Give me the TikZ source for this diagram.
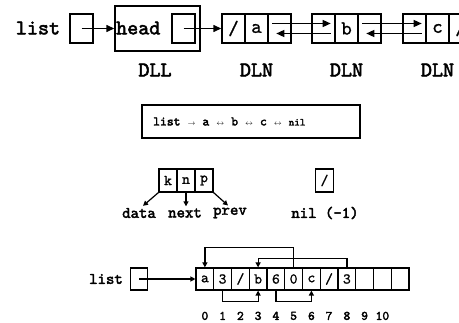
\documentclass[tikz,border=0pt]{standalone}
\usepackage{fontspec}
\setmonofont{lmmono10-regular.otf}[UprightFeatures={FakeBold=1},
    BoldFont=lmmono10-regular.otf,BoldFeatures={FakeBold=2.5}]
\usetikzlibrary{arrows.meta}
\begin{document}
\begin{tikzpicture}
        [x=1pt,y=-1pt,
        word/.style={inner sep=0pt,font=\ttfamily\bfseries\fontsize{21}{21}\selectfont},
        note/.style={inner sep=0pt,font=\ttfamily\bfseries\fontsize{16}{16}\selectfont},
        cell/.style={draw,line width=1.4pt,minimum width=23pt,minimum height=29pt,
            inner sep=0pt,font=\ttfamily\fontsize{20}{20}\selectfont},
        kcell/.style={draw,line width=1.2pt,minimum width=18pt,minimum height=23pt,
            inner sep=0pt,font=\ttfamily\fontsize{15}{15}\selectfont},
        acell/.style={draw,line width=1.2pt,minimum width=17.75pt,minimum height=22pt,
            inner sep=0pt,font=\ttfamily\fontsize{15}{15}\selectfont},
        every label/.style={inner sep=0pt,font=\ttfamily\bfseries\fontsize{13}{13}\selectfont},
        label distance=21pt,
        ptr/.style={line width=1.4pt,-{Triangle[length=8pt,width=7pt]}},
        sptr/.style={line width=1.2pt,-{Triangle[length=5pt,width=5pt]}}]
        \clip (0,0) rectangle (459,323);
        % doubly linked list
        \node[word] (list) at (38,28) {list};
        \node[cell] (lbox) at (81.5,28.5) {};
        \node[draw,line width=1.4pt,minimum width=85pt,minimum height=45pt] (dll) at (157.5,28.5) {};
        \node[word,anchor=west] (head) at (116,28) {head};
        \node[cell] (hbox) at (183.5,28.5) {};
        \node[word] (dlltxt) at (155,70) {DLL};
        \node[cell] (a1) at (233.5,28.5) {/};
        \node[cell] (a2) at (256.5,28.5) {a};
        \node[cell] (a3) at (279.5,28.5) {};
        \node[cell] (b1) at (323.5,28.5) {};
        \node[cell] (b2) at (346.5,28.5) {b};
        \node[cell] (b3) at (369.5,28.5) {};
        \node[cell] (c1) at (414.5,28.5) {};
        \node[cell] (c2) at (437.5,28.5) {c};
        \node[cell] (c3) at (460.5,28.5) {/};
        \node[word] (dlna) at (256.5,70) {DLN};
        \node[word] (dlnb) at (346.5,70) {DLN};
        \node[word] (dlnc) at (437.5,70) {DLN};
        \draw[ptr] (lbox.center) -- (dll.west);
        \draw[ptr] (hbox.center) -- (a1.west);
        \draw[ptr] ([xshift=5pt,yshift=5pt]a3.west) -- ([xshift=-5pt,yshift=5pt]b1.east);
        \draw[ptr] ([xshift=-5pt,yshift=-5pt]b1.east) -- ([xshift=9pt,yshift=-5pt]a3.west);
        \draw[ptr] ([xshift=5pt,yshift=5pt]b3.west) -- ([xshift=-5pt,yshift=5pt]c1.east);
        \draw[ptr] ([xshift=-5pt,yshift=-5pt]c1.east) -- ([xshift=9pt,yshift=-5pt]b3.west);
        % abstract view
        \node[draw,line width=1.5pt,minimum width=218pt,minimum height=33pt] (chain) at (251,121.5) {};
        \node[anchor=west,inner sep=0pt,font=\ttfamily\bfseries\fontsize{13}{13}\selectfont]
            (chaintxt) at (153,121.5)
            {list\hspace{7pt}{\scriptsize$\rightarrow$}\hspace{7pt}a\hspace{7pt}{\scriptsize$\leftrightarrow$}\hspace{7pt}b\hspace{7pt}{\scriptsize$\leftrightarrow$}\hspace{7pt}c\hspace{7pt}{\scriptsize$\leftrightarrow$}\hspace{7pt}{\fontsize{10.5}{10.5}\selectfont nil}};
        % node layout
        \node[kcell] (k) at (168,180.5) {k};
        \node[kcell] (n) at (186,180.5) {n};
        \node[kcell] (p) at (204,180.5) {p};
        \node[note] (data) at (139,213) {data};
        \node[note] (next) at (185,213) {next};
        \node[note] (prev) at (230,213) {prev};
        \draw[sptr] (k.south west) -- ([xshift=4pt,yshift=2pt]data.north);
        \draw[sptr] (n.south) -- ([yshift=2pt]n.south |- next.north);
        \draw[sptr] (p.south east) -- ([xshift=-2pt,yshift=2pt]prev.north);
        \node[kcell] (nil) at (324.5,180.5) {/};
        \node[note] (niltxt) at (325,213) {nil (-1)};
        % array view
        \node[note] (list2) at (106,279) {list};
        \node[acell] (lbox2) at (139,279) {};
        \node[acell,label=below:0] (m0) at (204.9,279) {a};
        \node[acell,label=below:1] (m1) at (222.6,279) {3};
        \node[acell,label=below:2] (m2) at (240.4,279) {/};
        \node[acell,label=below:3] (m3) at (258.1,279) {b};
        \node[acell,label=below:4] (m4) at (275.9,279) {6};
        \node[acell,label=below:5] (m5) at (293.6,279) {0};
        \node[acell,label=below:6] (m6) at (311.4,279) {c};
        \node[acell,label=below:7] (m7) at (329.1,279) {/};
        \node[acell,label=below:8] (m8) at (346.9,279) {3};
        \node[acell,label=below:9] (m9) at (364.6,279) {};
        \node[acell,label=below:10] (m10) at (382.4,279) {};
        \node[acell] (m11) at (400.1,279) {};
        \draw[sptr] (lbox2.center) -- (m0.west);
        \draw[sptr] (m5.north) -- ++(0,-20) -| (m0.north);
        \draw[sptr] (m8.north) -- ++(0,-9) -| (m3.north);
        \draw[sptr] (m1.south) -- ++(0,11) -| (m3.south);
        \draw[sptr] (m4.south) -- ++(0,11) -| (m6.south);
    \end{tikzpicture}
\end{document}
